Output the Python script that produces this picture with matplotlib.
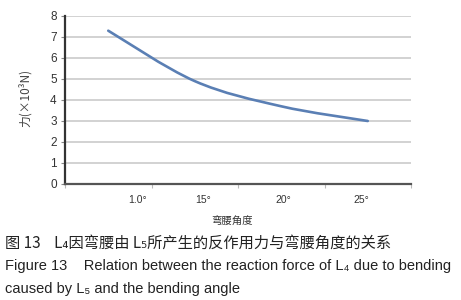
import numpy as np
import matplotlib
matplotlib.use("Agg")
import matplotlib.pyplot as plt
from matplotlib.path import Path
from matplotlib.patches import PathPatch

# data
angle_labels = ["1.0°", "15°", "20°", "25°"]
force = [7.3, 4.9, 3.7, 3.0]   # x10^3 N

cjk = ["Noto Sans CJK SC", "DejaVu Sans"]
latin = ["Liberation Sans", "DejaVu Sans"]

fig = plt.figure(figsize=(4.61, 3.00), dpi=100)
ax = fig.add_axes([65 / 461, 1 - 184 / 300, 346 / 461, 168 / 300])

# category centres
xs = np.arange(len(force)) + 0.5
ys = np.array(force, dtype=float)

# smoothed line (bezier through the points, Excel style)
verts = [(xs[0], ys[0])]
codes = [Path.MOVETO]
n = len(xs)
for i in range(n - 1):
    p_prev = np.array([xs[max(i - 1, 0)], ys[max(i - 1, 0)]])
    p0 = np.array([xs[i], ys[i]])
    p1 = np.array([xs[i + 1], ys[i + 1]])
    p_next = np.array([xs[min(i + 2, n - 1)], ys[min(i + 2, n - 1)]])
    c1 = p0 + (p1 - p_prev) / 6
    c2 = p1 - (p_next - p0) / 6
    verts += [tuple(c1), tuple(c2), tuple(p1)]
    codes += [Path.CURVE4] * 3
ax.add_patch(PathPatch(Path(verts, codes), facecolor="none",
                       edgecolor="#5a7fb4", linewidth=1.9, capstyle="round"))

ax.set_xlim(0, len(force))
ax.set_ylim(0, 8)
ax.set_yticks(range(0, 9))
ax.set_xticks(range(0, len(force) + 1))
ax.set_xticklabels([])
label_pos = [0.84, 1.6, 2.52, 3.43]
ax.set_xticks(label_pos, minor=True)
ax.set_xticklabels(angle_labels, minor=True, family=latin, fontsize=7.5,
                   color="#333333")
ax.tick_params(axis="x", which="minor", length=0, pad=8)
ax.tick_params(axis="x", which="major", length=3, width=0.8, color="#bbbbbb")
ax.tick_params(axis="y", length=3, width=0.8, color="#888888", pad=3,
               labelsize=8.5, labelcolor="#333333")
for lab in ax.get_yticklabels():
    lab.set_family(latin)

ax.grid(axis="y", color="#cfcfcf", linewidth=1.3)
ax.set_axisbelow(True)
for s in ["top", "right"]:
    ax.spines[s].set_visible(False)
ax.spines["left"].set_color("#333333")
ax.spines["left"].set_linewidth(1.6)
ax.spines["bottom"].set_color("#555555")
ax.spines["bottom"].set_linewidth(1.6)

fig.text(25 / 461, 1 - 98 / 300, "力(×10³N)", rotation=90, ha="center",
         va="center", family=cjk, fontsize=8.5, color="#444444")
fig.text(232 / 461, 1 - 222 / 300, "弯腰角度", ha="center", va="center",
         family=cjk, fontsize=7.5, color="#333333")

fig.text(5 / 461, 1 - 243 / 300, "图 13    L₄因弯腰由 L₅所产生的反作用力与弯腰角度的关系",
         ha="left", va="center", family=cjk, fontsize=11, color="#222222")
fig.text(5 / 461, 1 - 266 / 300,
         "Figure 13    Relation between the reaction force of L₄ due to bending",
         ha="left", va="center", family=latin, fontsize=10.5, color="#222222")
fig.text(5 / 461, 1 - 289 / 300, "caused by L₅ and the bending angle",
         ha="left", va="center", family=latin, fontsize=10.5, color="#222222")

fig.savefig("out.png", dpi=100)
